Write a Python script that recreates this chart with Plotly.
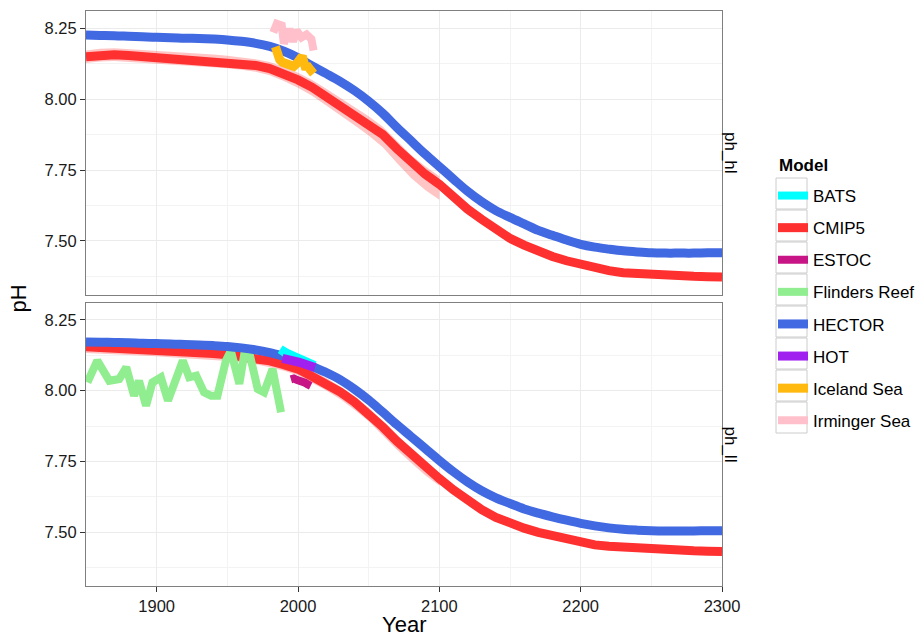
import plotly.graph_objects as go
from plotly.subplots import make_subplots

# ---------------- data ----------------
years10 = [1850, 1860, 1870, 1880, 1890, 1900, 1910, 1920, 1930, 1940, 1950, 1960,
           1970, 1980, 1990, 2000, 2010, 2020, 2030, 2040, 2050, 2060, 2070, 2080,
           2090, 2100, 2110, 2120, 2130, 2140, 2150, 2160, 2170, 2180, 2190, 2200,
           2210, 2220, 2230, 2240, 2250, 2260, 2270, 2280, 2290, 2300]

hector_hl = [8.226, 8.225, 8.224, 8.222, 8.220, 8.218, 8.217, 8.215, 8.214, 8.212, 8.209, 8.204,
             8.197, 8.186, 8.169, 8.146, 8.117, 8.090, 8.062, 8.030, 7.993, 7.950, 7.900, 7.853,
             7.806, 7.762, 7.718, 7.675, 7.638, 7.607, 7.583, 7.560, 7.537, 7.520, 7.503, 7.488,
             7.478, 7.471, 7.465, 7.461, 7.458, 7.457, 7.457, 7.457, 7.458, 7.458]

cmip5_hl = [8.150, 8.155, 8.157, 8.154, 8.150, 8.148, 8.145, 8.142, 8.139, 8.136, 8.131, 8.126,
            8.119, 8.108, 8.090, 8.068, 8.042, 8.010, 7.978, 7.945, 7.912, 7.875, 7.825, 7.775,
            7.735, 7.700, 7.655, 7.612, 7.576, 7.540, 7.509, 7.485, 7.462, 7.445, 7.430, 7.417,
            7.405, 7.395, 7.388, 7.384, 7.381, 7.379, 7.377, 7.375, 7.374, 7.373]

hector_ll = [8.172, 8.171, 8.170, 8.169, 8.167, 8.166, 8.165, 8.163, 8.161, 8.159, 8.156, 8.151,
             8.144, 8.134, 8.121, 8.107, 8.086, 8.064, 8.038, 8.005, 7.967, 7.924, 7.880, 7.838,
             7.796, 7.754, 7.714, 7.678, 7.647, 7.622, 7.602, 7.583, 7.568, 7.555, 7.543, 7.532,
             7.523, 7.516, 7.511, 7.508, 7.506, 7.505, 7.505, 7.505, 7.506, 7.506]

cmip5_ll = [8.155, 8.153, 8.151, 8.148, 8.145, 8.143, 8.140, 8.137, 8.134, 8.131, 8.127, 8.122,
            8.115, 8.105, 8.092, 8.076, 8.050, 8.025, 7.995, 7.960, 7.920, 7.872, 7.822, 7.775,
            7.730, 7.690, 7.650, 7.612, 7.580, 7.553, 7.532, 7.515, 7.500, 7.487, 7.474, 7.463,
            7.456, 7.451, 7.447, 7.443, 7.440, 7.438, 7.436, 7.435, 7.434, 7.433]

# CMIP5 ensemble spread (historical + RCP, to 2100)
band_years = [1850, 1860, 1870, 1880, 1890, 1900, 1910, 1920, 1930, 1940, 1950, 1960, 1970,
              1980, 1990, 2000, 2010, 2020, 2030, 2040, 2050, 2060, 2070, 2080, 2090, 2100]
band_hl_hi = [8.172, 8.178, 8.180, 8.177, 8.173, 8.170, 8.167, 8.164, 8.161, 8.158, 8.153, 8.148, 8.141,
              8.131, 8.114, 8.093, 8.068, 8.037, 8.005, 7.972, 7.940, 7.903, 7.853, 7.803, 7.763, 7.728]
band_hl_lo = [8.128, 8.133, 8.135, 8.132, 8.128, 8.126, 8.123, 8.120, 8.117, 8.114, 8.109, 8.104, 8.097,
              8.084, 8.064, 8.040, 8.012, 7.978, 7.944, 7.908, 7.872, 7.830, 7.775, 7.722, 7.680, 7.645]
band_ll_hi = [8.175, 8.173, 8.171, 8.168, 8.165, 8.163, 8.160, 8.157, 8.154, 8.151, 8.147, 8.142, 8.135,
              8.125, 8.112, 8.096, 8.070, 8.045, 8.015, 7.980, 7.940, 7.892, 7.842, 7.795, 7.750, 7.710]
band_ll_lo = [8.133, 8.131, 8.129, 8.126, 8.123, 8.121, 8.118, 8.115, 8.112, 8.109, 8.105, 8.100, 8.093,
              8.083, 8.070, 8.054, 8.028, 8.001, 7.970, 7.933, 7.892, 7.842, 7.792, 7.746, 7.702, 7.665]

iceland_years = [1984, 1985, 1987, 1989, 1991, 1993, 1995, 1997, 1999, 2001, 2003, 2005, 2007, 2009, 2011]
iceland_ph = [8.185, 8.155, 8.140, 8.130, 8.128, 8.120, 8.125, 8.116, 8.125, 8.135, 8.152, 8.116, 8.115, 8.102, 8.090]

irminger_years = [1982.5, 1985, 1988.5, 1990, 1994, 1996.5, 1999, 2002.5, 2006, 2009.5, 2011]
irminger_ph = [8.235, 8.266, 8.260, 8.196, 8.248, 8.203, 8.242, 8.218, 8.228, 8.212, 8.172]

flinders_years = [1851, 1858, 1866.5, 1873.5, 1878.5, 1884, 1887.5, 1892.5, 1897, 1903, 1908, 1912.5,
                  1918.5, 1923, 1928, 1933.5, 1938.5, 1943, 1949, 1952.5, 1958.5, 1962, 1965.5,
                  1971.5, 1976, 1982, 1988]
flinders_ph = [8.029, 8.106, 8.035, 8.041, 8.082, 7.982, 8.035, 7.947, 8.029, 8.047, 7.965, 8.024,
               8.106, 8.047, 8.053, 7.994, 7.982, 7.982, 8.106, 8.141, 8.024, 8.129, 8.135,
               8.006, 7.994, 8.076, 7.924]

bats_years = [1988, 1990, 1992, 1994, 1996, 1998, 2000, 2003, 2006, 2009, 2012]
bats_ph = [8.125, 8.140, 8.134, 8.130, 8.127, 8.120, 8.116, 8.110, 8.102, 8.096, 8.090]

hot_years = [1989, 1992, 1995, 1998, 2001, 2004, 2007, 2010, 2012]
hot_ph = [8.114, 8.112, 8.108, 8.104, 8.100, 8.095, 8.090, 8.086, 8.082]

estoc_years = [1995, 1997, 1999, 2001, 2003, 2005, 2007, 2009]
estoc_ph = [8.040, 8.043, 8.038, 8.036, 8.030, 8.028, 8.022, 8.017]

models = ["BATS", "CMIP5", "ESTOC", "Flinders Reef", "HECTOR", "HOT", "Iceland Sea", "Irminger Sea"]
colors = {"BATS": "#00FFFF", "CMIP5": "#FF3030", "ESTOC": "#C71585", "Flinders Reef": "#90EE90",
          "HECTOR": "#4169E1", "HOT": "#A020F0", "Iceland Sea": "#FFB90F", "Irminger Sea": "#FFC0CB"}
facets = ["ph_hl", "ph_ll"]
x_ticks = [1900, 2000, 2100, 2200, 2300]
y_ticks = [7.50, 7.75, 8.00, 8.25]

# ---------------- figure ----------------
FONT = "Liberation Sans, Arial, sans-serif"
fig = make_subplots(rows=2, cols=1, shared_xaxes=True, vertical_spacing=8 / 575)

shown = set()


def add_line(name, x, y, row, width=8, shape="linear"):
    show = name not in shown
    shown.add(name)
    fig.add_trace(go.Scatter(x=x, y=y, mode="lines", name=name, legendgroup=name,
                             legendrank=models.index(name) + 1, showlegend=show,
                             line=dict(color=colors[name], width=width, shape=shape),
                             hoverinfo="skip"), row=row, col=1)


def add_band(x, hi, lo, row):
    fig.add_trace(go.Scatter(x=x, y=hi, mode="lines", line=dict(width=0), showlegend=False,
                             legendgroup="band", hoverinfo="skip"), row=row, col=1)
    fig.add_trace(go.Scatter(x=x, y=lo, mode="lines", line=dict(width=0), fill="tonexty",
                             fillcolor="rgba(255,48,48,0.28)", showlegend=False,
                             legendgroup="band", hoverinfo="skip"), row=row, col=1)


# top panel: ph_hl
add_band(band_years, band_hl_hi, band_hl_lo, 1)
add_line("CMIP5", years10, cmip5_hl, 1, width=9)
add_line("HECTOR", years10, hector_hl, 1, width=9, shape="spline")
add_line("Iceland Sea", iceland_years, iceland_ph, 1, width=9)
add_line("Irminger Sea", irminger_years, irminger_ph, 1, width=8)

# bottom panel: ph_ll
add_band(band_years, band_ll_hi, band_ll_lo, 2)
add_line("CMIP5", years10, cmip5_ll, 2, width=9)
add_line("Flinders Reef", flinders_years, flinders_ph, 2, width=8)
add_line("HECTOR", years10, hector_ll, 2, width=9, shape="spline")
add_line("BATS", bats_years, bats_ph, 2, width=8)
add_line("HOT", hot_years, hot_ph, 2, width=9)
add_line("ESTOC", estoc_years, estoc_ph, 2, width=8)

axis_common = dict(showline=True, mirror=True, linecolor="#7F7F7F", linewidth=1,
                   zeroline=False, showgrid=True, gridcolor="#EBEBEB", gridwidth=1)

for r in (1, 2):
    fig.update_xaxes(range=[1850, 2300], tickvals=x_ticks, ticktext=[str(v) for v in x_ticks],
                     minor=dict(tickvals=[1850, 1950, 2050, 2150, 2250], showgrid=True,
                                gridcolor="#F3F3F3", ticklen=0),
                     ticks="outside" if r == 2 else "", ticklen=5, tickcolor="#333333",
                     showticklabels=(r == 2),
                     tickfont=dict(family=FONT, size=16.5, color="#1A1A1A"),
                     row=r, col=1, **axis_common)
    fig.update_yaxes(range=[7.311, 8.311], tickvals=y_ticks,
                     ticktext=["%.2f" % v for v in y_ticks],
                     minor=dict(tickvals=[7.375, 7.625, 7.875, 8.125], showgrid=True,
                                gridcolor="#F3F3F3", ticklen=0),
                     ticks="outside", ticklen=5, tickcolor="#333333",
                     tickfont=dict(family=FONT, size=16.5, color="#1A1A1A"),
                     row=r, col=1, **axis_common)

W, H = 920, 636
L, R, T, B = 86, 198, 11, 50
pw, ph = W - L - R, H - T - B


def px2x(px):
    return (px - L) / pw


def px2y(py):
    return (H - B - py) / ph


annotations = [
    dict(text="Year", x=0.5, y=px2y(639), xref="paper", yref="paper", showarrow=False,
         font=dict(family=FONT, size=22, color="black"), yanchor="bottom"),
    dict(text="pH", x=px2x(18), y=0.5, xref="paper", yref="paper", showarrow=False,
         textangle=-90, font=dict(family=FONT, size=22, color="black"), xanchor="center"),
    dict(text="<b>Model</b>", x=px2x(777), y=px2y(165), xref="paper", yref="paper",
         showarrow=False, xanchor="left", yanchor="middle",
         font=dict(family=FONT, size=17, color="black")),
]
for name, cy in zip(facets, [153, 444.5]):
    annotations.append(dict(text=name, x=px2x(730), y=px2y(cy), xref="paper", yref="paper",
                            showarrow=False, textangle=90, xanchor="center", yanchor="middle",
                            font=dict(family=FONT, size=17, color="black")))

shapes = []
for i in range(len(models)):
    top = 178 + 32 * i
    shapes.append(dict(type="rect", xref="paper", yref="paper",
                       x0=px2x(776), x1=px2x(807), y0=px2y(top + 31), y1=px2y(top),
                       line=dict(color="#CCCCCC", width=1), fillcolor="rgba(0,0,0,0)"))

fig.update_layout(
    width=W, height=H,
    margin=dict(l=L, r=R, t=T, b=B, autoexpand=False),
    paper_bgcolor="white", plot_bgcolor="white",
    font=dict(family=FONT, size=16, color="black"),
    annotations=annotations,
    shapes=shapes,
    legend=dict(x=px2x(773), y=px2y(178), xanchor="left", yanchor="top",
                font=dict(family=FONT, size=17, color="black"),
                tracegroupgap=7, traceorder="grouped", itemwidth=30,
                bgcolor="rgba(0,0,0,0)"),
)

fig.write_html("out.html")
